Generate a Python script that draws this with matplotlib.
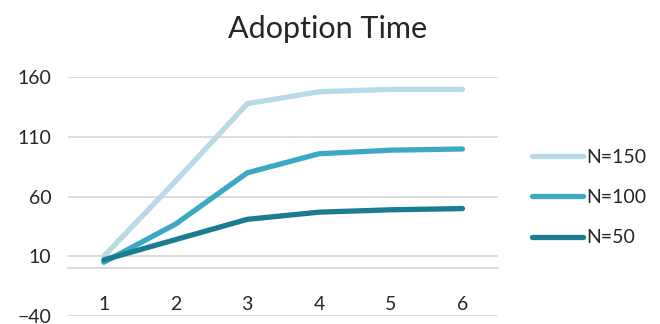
import matplotlib.pyplot as plt

steps = [1, 2, 3, 4, 5, 6]
n150 = [10, 73, 138, 148, 150, 150]
n100 = [5, 37, 80, 96, 99, 100]
n50 = [7, 24, 41, 47, 49, 50]

series = [("N=150", n150, "#B8D9E6"),
          ("N=100", n100, "#3CA9C4"),
          ("N=50", n50, "#1A7C8E")]

plt.rcParams["font.family"] = ["Lato", "DejaVu Sans"]

fig = plt.figure(figsize=(6.6, 3.24), dpi=100)
ax = fig.add_axes([0.103, 0.025, 0.652, 0.736])

for name, vals, col in series:
    ax.plot(steps, vals, color=col, lw=3.8, solid_capstyle="round",
            solid_joinstyle="round", label=name)

ax.set_xlim(0.5, 6.5)
ax.set_ylim(-40, 160)
ax.set_yticks([-40, 10, 60, 110, 160])
ax.set_xticks(steps)
ax.grid(axis="y", color="#D9D9D9", lw=1.3)
ax.set_axisbelow(True)

for s in ["top", "right", "left"]:
    ax.spines[s].set_visible(False)
ax.spines["bottom"].set_position(("data", 0))
ax.spines["bottom"].set_color("#D9D9D9")
ax.spines["bottom"].set_linewidth(1.3)
ax.tick_params(axis="both", length=0, labelsize=14, colors="#262626")
ax.tick_params(axis="x", pad=20)
ax.tick_params(axis="y", pad=12)

fig.text(0.497, 0.91, "Adoption Time", fontsize=22, color="#262626",
         ha="center", va="center")

leg = fig.legend(loc="center left", bbox_to_anchor=(0.78, 0.39), frameon=False,
                 fontsize=14, handlelength=2.6, handletextpad=0.2,
                 labelspacing=1.2)
for t in leg.get_texts():
    t.set_color("#262626")

fig.savefig("out.png", dpi=100)
